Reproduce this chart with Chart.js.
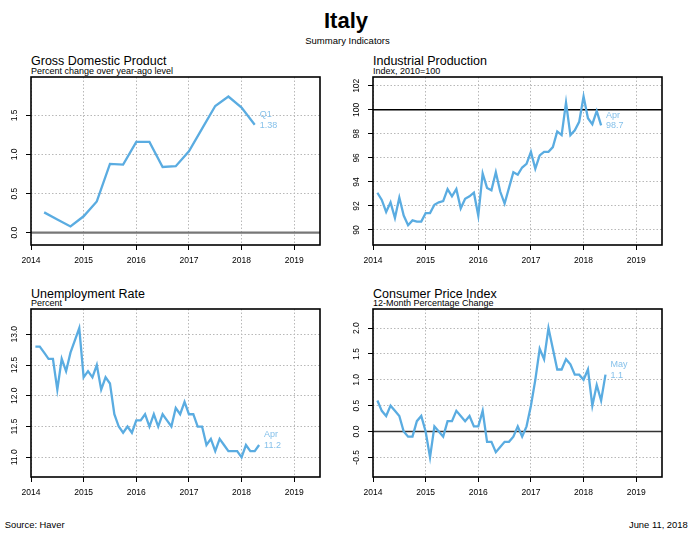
<!DOCTYPE html>
<html>
<head>
<meta charset="utf-8">
<script src="https://cdn.jsdelivr.net/npm/chart.js@4.4.0/dist/chart.umd.min.js"></script>
<style>
  body { margin: 0; width: 696px; height: 535px; background: #fff; position: relative; overflow: hidden;
         font-family: "Liberation Sans", Arial, sans-serif; color: #000; }
  .t { position: absolute; white-space: nowrap; line-height: 1; }
  canvas { position: absolute; }
</style>
</head>
<body>
<div class="t" style="left:0;width:692px;text-align:center;top:10.4px;font-size:22px;font-weight:bold">Italy</div>
<div class="t" style="left:0;width:695px;text-align:center;top:36px;font-size:9.5px">Summary Indicators</div>

<div class="t" style="left:31px;top:55.3px;font-size:12.5px">Gross Domestic Product</div>
<div class="t" style="left:31px;top:67.2px;font-size:9px">Percent change over year-ago level</div>
<div class="t" style="left:373px;top:55.3px;font-size:12.5px">Industrial Production</div>
<div class="t" style="left:373px;top:67.2px;font-size:9px">Index, 2010=100</div>
<div class="t" style="left:31px;top:287.5px;font-size:12.5px">Unemployment Rate</div>
<div class="t" style="left:31px;top:299.2px;font-size:9px">Percent</div>
<div class="t" style="left:373px;top:287.5px;font-size:12.5px">Consumer Price Index</div>
<div class="t" style="left:373px;top:299.2px;font-size:9px">12-Month Percentage Change</div>

<canvas id="gdp" width="330" height="200" style="left:0;top:70px"></canvas>
<canvas id="ip" width="330" height="200" style="left:342px;top:70px"></canvas>
<canvas id="ur" width="330" height="200" style="left:0;top:302px"></canvas>
<canvas id="cpi" width="330" height="200" style="left:342px;top:302px"></canvas>

<div class="t" style="left:4.7px;top:519.8px;font-size:9.4px">Source: Haver</div>
<div class="t" style="right:8.3px;top:519.8px;font-size:9.4px">June 11, 2018</div>

<script>
// quarterly GDP, % change over year-ago level
const quarters = ["2014Q1", "2014Q2", "2014Q3", "2014Q4", "2015Q1", "2015Q2", "2015Q3", "2015Q4",
  "2016Q1", "2016Q2", "2016Q3", "2016Q4", "2017Q1", "2017Q2", "2017Q3", "2017Q4", "2018Q1"];
const gdpValues = [0.26, 0.17, 0.08, 0.21, 0.40, 0.88, 0.87, 1.16,
  1.16, 0.84, 0.85, 1.04, 1.33, 1.62, 1.74, 1.60, 1.38];

// monthly series
const months = [
  "2014-01", "2014-02", "2014-03", "2014-04", "2014-05", "2014-06", "2014-07", "2014-08", "2014-09", "2014-10", "2014-11", "2014-12",
  "2015-01", "2015-02", "2015-03", "2015-04", "2015-05", "2015-06", "2015-07", "2015-08", "2015-09", "2015-10", "2015-11", "2015-12",
  "2016-01", "2016-02", "2016-03", "2016-04", "2016-05", "2016-06", "2016-07", "2016-08", "2016-09", "2016-10", "2016-11", "2016-12",
  "2017-01", "2017-02", "2017-03", "2017-04", "2017-05", "2017-06", "2017-07", "2017-08", "2017-09", "2017-10", "2017-11", "2017-12",
  "2018-01", "2018-02", "2018-03", "2018-04", "2018-05"];
const ipValues = [
  93.1, 92.5, 91.5, 92.3, 91.0, 92.7, 91.2, 90.4, 90.8, 90.7, 90.7, 91.4,
  91.4, 92.1, 92.3, 92.4, 93.4, 92.8, 93.4, 91.8, 92.6, 92.8, 93.1, 91.2,
  94.7, 93.5, 93.3, 94.8, 93.2, 92.2, 93.5, 94.8, 94.6, 95.2, 95.5, 96.5,
  95.1, 96.2, 96.5, 96.5, 96.9, 98.2, 97.9, 100.6, 97.9, 98.3, 99.0, 101.1,
  99.3, 98.8, 99.9, 98.7];
const urValues = [
  12.8, 12.8, 12.7, 12.6, 12.6, 12.1, 12.6, 12.4, 12.7, 12.9, 13.1, 12.3,
  12.4, 12.3, 12.5, 12.1, 12.3, 12.2, 11.7, 11.5, 11.4, 11.5, 11.4, 11.6,
  11.6, 11.7, 11.5, 11.7, 11.5, 11.7, 11.6, 11.5, 11.8, 11.7, 11.9, 11.7,
  11.7, 11.5, 11.5, 11.2, 11.3, 11.1, 11.3, 11.2, 11.1, 11.1, 11.1, 11.0,
  11.2, 11.1, 11.1, 11.2];
const cpiValues = [
  0.6, 0.4, 0.3, 0.5, 0.4, 0.3, 0.0, -0.1, -0.1, 0.2, 0.3, 0.0,
  -0.5, 0.1, 0.0, -0.1, 0.2, 0.2, 0.4, 0.3, 0.2, 0.3, 0.1, 0.1,
  0.4, -0.2, -0.2, -0.4, -0.3, -0.2, -0.2, -0.1, 0.1, -0.1, 0.1, 0.5,
  1.0, 1.6, 1.4, 2.0, 1.6, 1.2, 1.2, 1.4, 1.3, 1.1, 1.1, 1.0,
  1.2, 0.5, 0.9, 0.6, 1.1];

const yearTicks = [2014, 2015, 2016, 2017, 2018, 2019];
const gdpTicks = [0, 0.5, 1, 1.5];
const gdpTickLabels = ["0.0", "0.5", "1.0", "1.5"];
const ipTicks = [90, 92, 94, 96, 98, 100, 102];
const ipTickLabels = ["90", "92", "94", "96", "98", "100", "102"];
const urTicks = [11, 11.5, 12, 12.5, 13];
const urTickLabels = ["11.0", "11.5", "12.0", "12.5", "13.0"];
const cpiTicks = [-0.5, 0, 0.5, 1, 1.5, 2];
const cpiTickLabels = ["-0.5", "0.0", "0.5", "1.0", "1.5", "2.0"];
const monthNames = ["Jan", "Feb", "Mar", "Apr", "May", "Jun", "Jul", "Aug", "Sep", "Oct", "Nov", "Dec"];

// dates are plotted at the end of their period
const quarterToYear = q => +q.slice(0, 4) + +q.slice(5) / 4;
const monthToYear = m => +m.slice(0, 4) + +m.slice(5) / 12;

const FONT = '"Liberation Sans", Arial, sans-serif';
const LINE = "#5aace1";

const panelPlugin = {
  id: "panel",
  beforeDatasetsDraw(chart, args, o) {
    if (o.refValue === undefined) return;
    const { ctx, chartArea: a, scales: { y } } = chart;
    const py = y.getPixelForValue(o.refValue);
    ctx.save();
    ctx.strokeStyle = o.refColor;
    ctx.lineWidth = o.refWidth;
    ctx.beginPath();
    ctx.moveTo(a.left, py);
    ctx.lineTo(a.right, py);
    ctx.stroke();
    ctx.restore();
  },
  afterDraw(chart, args, o) {
    const { ctx, chartArea: a, scales: { x, y } } = chart;
    ctx.save();
    ctx.strokeStyle = "#000";
    ctx.lineWidth = 1.6;
    ctx.strokeRect(a.left, a.top, a.right - a.left, a.bottom - a.top);

    // rotated y tick labels
    ctx.font = "8.5px " + FONT;
    ctx.fillStyle = "#000";
    ctx.textAlign = "center";
    ctx.textBaseline = "middle";
    y.ticks.forEach(t => {
      ctx.save();
      ctx.translate(a.left - 16, y.getPixelForValue(t.value));
      ctx.rotate(-Math.PI / 2);
      ctx.fillText(t.label, 0, 0);
      ctx.restore();
    });

    // note at the last observation
    const data = chart.data.datasets[0].data;
    const last = data[data.length - 1];
    const px = x.getPixelForValue(last.x) + 5;
    const py = y.getPixelForValue(last.y);
    ctx.font = "9px " + FONT;
    ctx.fillStyle = "#86c1ea";
    ctx.textAlign = "left";
    ctx.fillText(o.note[0], px, py - 10);
    ctx.fillText(o.note[1], px, py + 0.5);
    ctx.restore();
  }
};

function makePanel(id, xs, values, yMin, yMax, ticks, labels, note, ref) {
  const points = xs.map((x, i) => ({ x: x, y: values[i] }));
  return new Chart(document.getElementById(id), {
    type: "line",
    data: {
      datasets: [{
        data: points,
        borderColor: LINE,
        borderWidth: 2.3,
        pointRadius: 0,
        tension: 0,
        fill: false
      }]
    },
    options: {
      responsive: false,
      animation: false,
      layout: { padding: { top: 7, right: 10, left: 0, bottom: 0 } },
      plugins: {
        legend: { display: false },
        tooltip: { enabled: false },
        panel: Object.assign({ note: note }, ref || {})
      },
      scales: {
        x: {
          type: "linear",
          min: 2014,
          max: 2019.49,
          afterBuildTicks: axis => { axis.ticks = yearTicks.map(v => ({ value: v })); },
          afterFit: axis => { axis.height = 25; },
          ticks: {
            callback: v => String(v),
            font: { family: FONT, size: 8.5 },
            color: "#000",
            padding: 6,
            maxRotation: 0,
            autoSkip: false
          },
          grid: {
            color: "#b8b8b8",
            lineWidth: 1,
            tickLength: 5,
            tickColor: "#000",
            tickWidth: 1,
            tickBorderDash: []
          },
          border: { display: false, dash: [1.5, 2] }
        },
        y: {
          min: yMin,
          max: yMax,
          afterBuildTicks: axis => { axis.ticks = ticks.map(v => ({ value: v })); },
          afterFit: axis => { axis.width = 31; },
          ticks: {
            display: false,
            callback: (v, i) => labels[i]
          },
          grid: {
            color: "#b8b8b8",
            lineWidth: 1,
            tickLength: 5,
            tickColor: "#000",
            tickWidth: 1,
            tickBorderDash: []
          },
          border: { display: false, dash: [1.5, 2] }
        }
      }
    },
    plugins: [panelPlugin]
  });
}

const qx = quarters.map(quarterToYear);
const mx = months.map(monthToYear);
const lastQ = quarters[quarters.length - 1];

makePanel("gdp", qx, gdpValues, -0.157, 1.99, gdpTicks, gdpTickLabels,
  [lastQ.slice(4), gdpValues[gdpValues.length - 1].toFixed(2)],
  { refValue: 0, refColor: "#777", refWidth: 2.3 });

makePanel("ip", mx.slice(0, ipValues.length), ipValues, 88.75, 102.73, ipTicks, ipTickLabels,
  [monthNames[+months[ipValues.length - 1].slice(5) - 1], ipValues[ipValues.length - 1].toFixed(1)],
  { refValue: 100, refColor: "#000", refWidth: 1.4 });

makePanel("ur", mx.slice(0, urValues.length), urValues, 10.68, 13.41, urTicks, urTickLabels,
  [monthNames[+months[urValues.length - 1].slice(5) - 1], urValues[urValues.length - 1].toFixed(1)]);

makePanel("cpi", mx.slice(0, cpiValues.length), cpiValues, -0.88, 2.37, cpiTicks, cpiTickLabels,
  [monthNames[+months[cpiValues.length - 1].slice(5) - 1], cpiValues[cpiValues.length - 1].toFixed(1)],
  { refValue: 0, refColor: "#333", refWidth: 1.4 });
</script>
</body>
</html>
